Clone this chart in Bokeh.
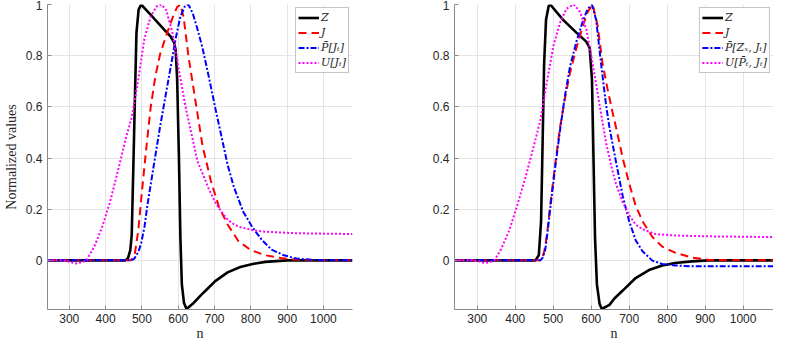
from bokeh.plotting import figure
from bokeh.layouts import row
from bokeh.models import Range1d, FixedTicker, Legend, LegendItem
from bokeh.embed import file_html
from bokeh.resources import INLINE

# ---------------- data ----------------
# Left panel
zL_n = [240, 455, 462, 468, 472, 477, 481, 485, 491, 498, 520, 540, 560, 580, 589, 593, 597, 602, 606, 610, 616, 623, 640, 660, 680, 702, 736, 771, 805, 840, 900, 1080]
zL_v = [0, 0, 0.01, 0.04, 0.1, 0.4, 0.65, 0.89, 0.98, 1.0, 0.966, 0.935, 0.904, 0.873, 0.85, 0.82, 0.71, 0.4, 0.09, -0.094, -0.167, -0.19, -0.17, -0.14, -0.112, -0.081, -0.047, -0.026, -0.014, -0.006, 0, 0]

jL_n = [240, 470, 481, 490, 498, 511, 524, 537, 550, 567, 584, 597, 606, 615, 628, 650, 667, 690, 712, 736, 766, 800, 840, 883, 926, 969, 1080]
jL_v = [0, 0, 0.03, 0.116, 0.239, 0.424, 0.596, 0.719, 0.805, 0.879, 0.947, 0.99, 1.0, 0.95, 0.8, 0.6, 0.448, 0.31, 0.21, 0.14, 0.075, 0.04, 0.02, 0.009, 0.003, 0, 0]

pL_n = [240, 470, 478, 485, 492, 498, 507, 515, 533, 550, 567, 584, 593, 606, 619, 628, 640, 653, 667, 684, 702, 719, 736, 753, 779, 805, 831, 857, 891, 926, 969, 1012, 1080]
pL_v = [0, 0, 0.005, 0.02, 0.04, 0.067, 0.13, 0.214, 0.374, 0.522, 0.658, 0.793, 0.867, 0.953, 0.996, 1.0, 0.966, 0.904, 0.83, 0.719, 0.596, 0.485, 0.374, 0.288, 0.19, 0.128, 0.079, 0.042, 0.02, 0.007, 0.002, 0, 0]

uL_n = [240, 280, 300, 317, 335, 347, 369, 390, 412, 434, 455, 472, 490, 507, 524, 541, 554, 567, 584, 602, 619, 636, 653, 667, 684, 702, 719, 736, 754, 771, 805, 840, 926, 1080]
uL_v = [0, 0, -0.005, -0.012, -0.008, 0, 0.054, 0.128, 0.227, 0.35, 0.473, 0.559, 0.707, 0.867, 0.953, 0.993, 1.0, 0.978, 0.89, 0.744, 0.608, 0.498, 0.387, 0.34, 0.28, 0.227, 0.19, 0.159, 0.14, 0.13, 0.118, 0.112, 0.106, 0.103]

# Right panel
zR_n = [240, 453, 462, 468, 472, 476, 481, 488, 492, 526, 561, 587, 596, 602, 606, 610, 615, 622, 628, 648, 661, 683, 717, 752, 787, 821, 865, 908, 1080]
zR_v = [0, 0, 0.02, 0.153, 0.46, 0.768, 0.94, 0.994, 1.0, 0.94, 0.89, 0.855, 0.83, 0.707, 0.4, 0.09, -0.094, -0.17, -0.19, -0.174, -0.149, -0.118, -0.069, -0.038, -0.02, -0.01, -0.004, 0, 0]

jR_n = [240, 466, 472, 479, 485, 492, 505, 518, 531, 544, 561, 578, 591, 604, 617, 630, 643, 656, 665, 683, 700, 717, 735, 761, 787, 821, 865, 908, 994, 1080]
jR_v = [0, 0, 0.01, 0.054, 0.12, 0.214, 0.374, 0.522, 0.633, 0.732, 0.83, 0.916, 0.972, 1.0, 0.916, 0.768, 0.67, 0.58, 0.522, 0.4, 0.3, 0.214, 0.153, 0.091, 0.054, 0.03, 0.011, 0.002, 0, 0]

pR_n = [240, 466, 472, 479, 485, 492, 505, 518, 531, 544, 561, 578, 591, 602, 613, 626, 639, 648, 665, 683, 700, 717, 735, 761, 787, 821, 865, 1080]
pR_v = [0, 0, 0.01, 0.042, 0.11, 0.202, 0.362, 0.51, 0.645, 0.756, 0.855, 0.935, 0.984, 1.0, 0.94, 0.768, 0.608, 0.52, 0.387, 0.251, 0.153, 0.079, 0.036, -0.001, -0.014, -0.02, -0.023, -0.023]

uR_n = [240, 290, 305, 319, 333, 345, 362, 384, 405, 427, 449, 466, 483, 501, 518, 535, 554, 570, 587, 604, 622, 639, 648, 656, 665, 683, 700, 717, 735, 769, 821, 908, 1080]
uR_v = [0, 0, -0.004, -0.011, -0.007, 0, 0.042, 0.116, 0.214, 0.325, 0.448, 0.547, 0.695, 0.842, 0.929, 0.984, 1.0, 0.972, 0.904, 0.768, 0.608, 0.461, 0.40, 0.35, 0.30, 0.227, 0.177, 0.14, 0.122, 0.103, 0.097, 0.094, 0.091]

x_ticks = [300, 400, 500, 600, 700, 800, 900, 1000]
y_ticks = [0, 0.2, 0.4, 0.6, 0.8, 1]
y_tick_labels = ["0", "0.2", "0.4", "0.6", "0.8", "1"]

labels_left = ["Z", "J", "P\u0304[J\u209c]", "U[J\u209c]"]
labels_right = ["Z", "J", "P\u0304[Z\u2093, J\u209c]", "U[P\u0304\u209c, J\u209c]"]

X_RANGE = (240, 1080)
Y_RANGE = (-0.192, 1.0)

SERIF = "Liberation Serif"
LEGEND_FONT = "DejaVu Serif"
SANS = "Liberation Sans"


def make_panel(width, border_left, border_right, ylabel, series, labels):
    p = figure(width=width, height=343, output_backend="svg", toolbar_location=None,
               x_range=Range1d(*X_RANGE), y_range=Range1d(*Y_RANGE),
               min_border_left=border_left, min_border_right=border_right,
               min_border_top=4, min_border_bottom=0)
    p.outline_line_color = None
    p.background_fill_color = "white"
    for ax in (p.xaxis[0], p.yaxis[0]):
        ax.axis_line_color = "#8a8a8a"
        ax.major_tick_line_color = "#8a8a8a"
        ax.major_tick_in = 4
        ax.major_tick_out = 0
        ax.minor_tick_line_color = None
        ax.major_label_text_font = SANS
        ax.major_label_text_font_size = "12px"
        ax.major_label_text_color = "#262626"
        ax.axis_label_text_font = SERIF
        ax.axis_label_text_font_size = "14px"
        ax.axis_label_text_font_style = "normal"
        ax.axis_label_text_color = "#262626"
    p.xaxis.ticker = FixedTicker(ticks=x_ticks)
    p.yaxis.ticker = FixedTicker(ticks=y_ticks)
    p.yaxis.major_label_overrides = {t: s for t, s in zip(y_ticks, y_tick_labels)}
    p.xaxis.axis_label = "n"
    p.xaxis.major_label_standoff = 4
    p.xaxis.axis_label_standoff = 0
    if ylabel:
        p.yaxis.axis_label = ylabel
        p.yaxis.axis_label_standoff = 4
    p.grid.grid_line_color = "#e5e5e5"
    p.grid.grid_line_width = 1

    styles = [
        dict(color="black", line_width=2.6, line_dash="solid"),
        dict(color="red", line_width=2.0, line_dash="8 5"),
        dict(color="blue", line_width=2.0, line_dash="6 2 2 2"),
        dict(color="magenta", line_width=2.0, line_dash="2 2"),
    ]
    items = []
    for (xs, ys), st, lab in zip(series, styles, labels):
        r = p.line(xs, ys, line_color=st["color"], line_width=st["line_width"], line_dash=st["line_dash"])
        items.append(LegendItem(label=lab, renderers=[r]))
    leg = Legend(items=items, location="top_right")
    leg.margin = 3
    leg.padding = 2
    leg.spacing = 0
    leg.glyph_width = 21
    leg.glyph_height = 15
    leg.label_height = 15
    leg.label_standoff = 2
    leg.label_text_font = LEGEND_FONT
    leg.label_text_font_size = "11px"
    leg.label_text_font_style = "italic"
    leg.label_text_color = "#262626"
    leg.border_line_color = "#8a8a8a"
    leg.border_line_width = 1
    leg.background_fill_color = "white"
    leg.background_fill_alpha = 1
    p.add_layout(leg)
    return p


p1 = make_panel(400, 27, 48, "Normalized values",
                [(zL_n, zL_v), (jL_n, jL_v), (pL_n, pL_v), (uL_n, uL_v)], labels_left)
p2 = make_panel(373, 54, 0, None,
                [(zR_n, zR_v), (jR_n, jR_v), (pR_n, pR_v), (uR_n, uR_v)], labels_right)

layout = row(p1, p2)
open("out.html", "w").write(file_html(layout, INLINE))
